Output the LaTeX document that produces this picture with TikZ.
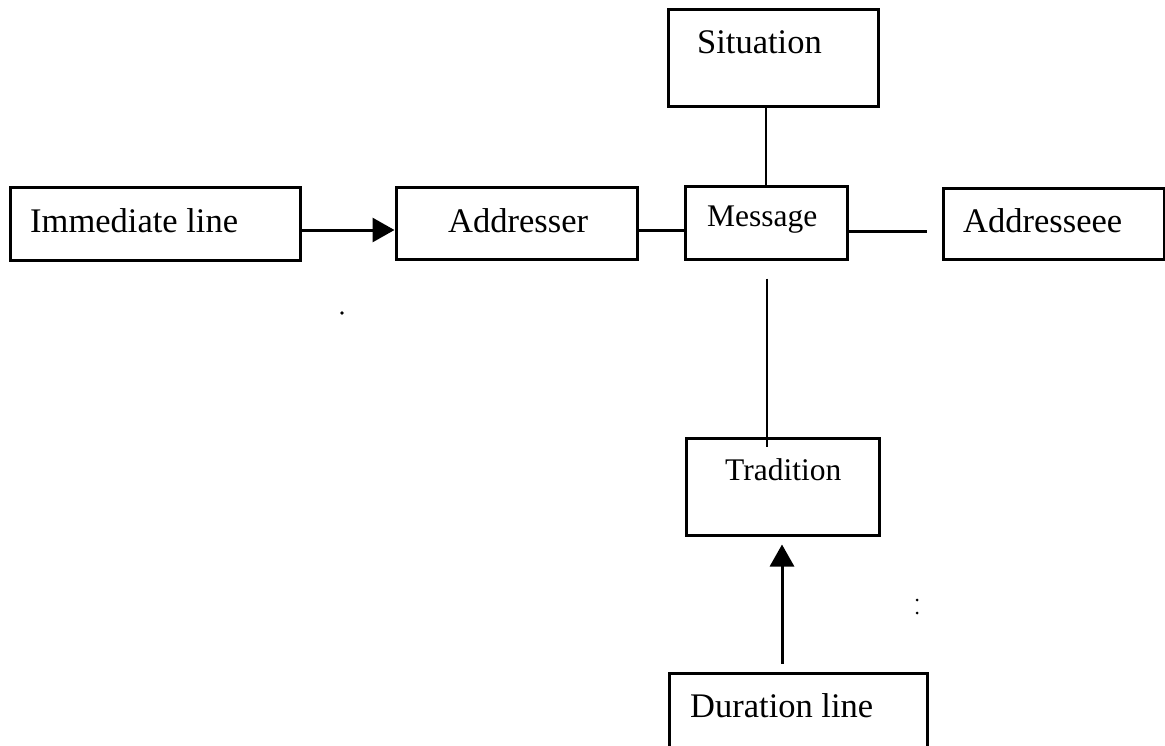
\documentclass[tikz,border=0pt]{standalone}
\usepackage{fontspec}
\setmainfont{Liberation Serif}
\usetikzlibrary{calc,arrows.meta}
\begin{document}
\begin{tikzpicture}[x=1pt,y=-1pt,
  box/.style={draw,line width=3pt,rectangle,inner sep=0pt},
  lbl/.style={anchor=base west,inner sep=0pt,font=\fontsize{34.5}{40}\selectfont},
  lbls/.style={anchor=base west,inner sep=0pt,font=\fontsize{31.5}{38}\selectfont},
  conn/.style={line width=3pt},
  thin/.style={line width=1.2pt},
  arr/.style={line width=3pt,-{Triangle[length=22pt,width=24pt]}}]
\useasboundingbox (0,0) rectangle (1165,745);
\fill[white] (0,0) rectangle (1165,745);
% boxes
\node[box,minimum width=290pt,minimum height=73pt] (imm) at (155,223.5) {};
\node[box,minimum width=241pt,minimum height=72pt] (addr) at (516.5,223) {};
\node[box,minimum width=162pt,minimum height=73pt] (msg) at (766,222.5) {};
\node[box,minimum width=221pt,minimum height=71pt] (addee) at (1053.5,223.5) {};
\node[box,minimum width=210pt,minimum height=97pt] (sit) at (773,57.5) {};
\node[box,minimum width=193pt,minimum height=97pt] (trad) at (782.5,486.5) {};
\node[box,minimum width=258pt,minimum height=100pt] (dur) at (798,723) {};
% labels
\node[lbl] (timm) at (30,232) {Immediate line};
\node[lbl] (taddr) at (448,232) {Addresser};
\node[lbls] (tmsg) at (707,226) {Message};
\node[lbl] (taddee) at (963,232) {Addresseee};
\node[lbl] (tsit) at (697,53) {Situation};
\node[lbls] (ttrad) at (725,480) {Tradition};
\node[lbl] (tdur) at (690,717) {Duration line};
% connectors
\draw[arr] ($(imm.east)+(0,6.5)$) -- ($(addr.west)+(0,7)$);
\draw[conn] ($(addr.east)+(0,7)$) -- ($(msg.west)+(0,7.5)$);
\coordinate (addeeend) at ($(addee.west)+(-15,7.5)$);
\draw[conn] ($(msg.east)+(0,8.5)$) -- (addeeend);
\draw[thin] (msg.north) -- (msg.north |- sit.south);
\draw[thin] ($(msg.south)+(1,18)$) -- ($(msg.south |- trad.north)+(1,10)$);
\draw[arr] ($(dur.north)+(-16,-8)$) -- ($(dur.north |- trad.south)+(-16,8)$);
% stray marks
\fill (342,313) circle (1.8pt);
\fill (917,600) circle (1.5pt);
\fill (917,613) circle (1.5pt);
\end{tikzpicture}
\end{document}
